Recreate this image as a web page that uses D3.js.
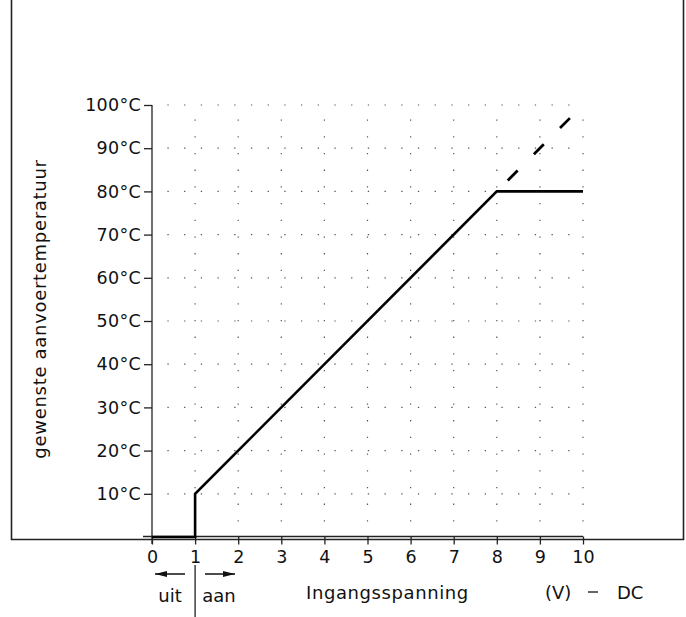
<!DOCTYPE html>
<html>
<head>
<meta charset="utf-8">
<script src="https://cdn.jsdelivr.net/npm/d3@7"></script>
<style>
  html, body { margin: 0; padding: 0; background: #fff; }
  text { font-family: 'DejaVu Sans', sans-serif; fill: #111; }
</style>
</head>
<body>
<div class="svg-container"></div>
<script>
const w = 686;
const h = 617;

// characteristic curve
const voltage = [0, 1, 1, 8, 10];
const temperature = [0, 0, 10, 80, 80];
// dashed continuation above 80°C
const dashVoltage = [8, 9.75];
const dashTemperature = [80, 97.5];

const xTicks = [0, 1, 2, 3, 4, 5, 6, 7, 8, 9, 10];
const yTicks = [10, 20, 30, 40, 50, 60, 70, 80, 90, 100];
const yTickLabels = yTicks.map(t => `${t}°C`);

const svg = d3
	.select('.svg-container')
	.append('svg')
	.attr('width', w)
	.attr('height', h)
	.style('display', 'block');

const xScale = d3.scaleLinear().domain([0, 10]).range([152, 583]);
const yScale = d3.scaleLinear().domain([0, 100]).range([537, 105]);

// outer frame (top is cut off)
svg
	.append('path')
	.attr('d', `M11.5,0 V539.5 H683.5 V0`)
	.attr('fill', 'none')
	.attr('stroke', '#222')
	.attr('stroke-width', 1.6);

// dotted grid
svg
	.append('g')
	.selectAll('line')
	.data(yTicks)
	.enter()
	.append('line')
	.attr('x1', xScale(0))
	.attr('x2', xScale(10))
	.attr('y1', d => yScale(d))
	.attr('y2', d => yScale(d))
	.attr('stroke', '#555')
	.attr('stroke-width', 1.2)
	.attr('stroke-dasharray', '1.3,15.4')
	.attr('stroke-dashoffset', -15.4);

svg
	.append('g')
	.selectAll('line')
	.data(xTicks.slice(1))
	.enter()
	.append('line')
	.attr('x1', d => xScale(d))
	.attr('x2', d => xScale(d))
	.attr('y1', yScale(0))
	.attr('y2', yScale(100))
	.attr('stroke', '#555')
	.attr('stroke-width', 1.2)
	.attr('stroke-dasharray', '1.3,15.4')
	.attr('stroke-dashoffset', -15.4);

// y axis
const yAxis = d3
	.axisLeft(yScale)
	.tickValues(yTicks)
	.tickSize(8)
	.tickPadding(3)
	.tickFormat((d, i) => yTickLabels[i]);

const gy = svg
	.append('g')
	.attr('transform', `translate(${xScale(0)}, 0)`)
	.call(yAxis);
gy.select('.domain').remove();
gy.selectAll('.tick line').attr('stroke', '#222').attr('stroke-width', 1.3);
gy.selectAll('.tick text')
	.style('font-size', '17.5px')
	.style('letter-spacing', '0.3px')
	.attr('fill', '#111');

svg
	.append('line')
	.attr('x1', xScale(0))
	.attr('x2', xScale(0))
	.attr('y1', yScale(100))
	.attr('y2', 544)
	.attr('stroke', '#222')
	.attr('stroke-width', 1.3);

// x axis
const xAxis = d3.axisBottom(xScale).tickValues(xTicks).tickSize(8).tickPadding(6);

const gx = svg
	.append('g')
	.attr('transform', `translate(0, 536.5)`)
	.call(xAxis);
gx.select('.domain').remove();
gx.selectAll('.tick line').attr('stroke', '#222').attr('stroke-width', 1.3);
gx.selectAll('.tick text')
	.style('font-size', '17.5px')
	.attr('fill', '#111');

svg
	.append('line')
	.attr('x1', 143)
	.attr('x2', xScale(10))
	.attr('y1', 536.5)
	.attr('y2', 536.5)
	.attr('stroke', '#222')
	.attr('stroke-width', 1.3);

// curve
const line = d3
	.line()
	.x(d => xScale(d[0]))
	.y(d => yScale(d[1]));

svg
	.append('path')
	.datum(voltage.map((v, i) => [v, temperature[i]]))
	.attr('d', line)
	.attr('fill', 'none')
	.attr('stroke', '#000')
	.attr('stroke-width', 2.6);

svg
	.append('path')
	.datum(dashVoltage.map((v, i) => [v, dashTemperature[i]]))
	.attr('d', line)
	.attr('fill', 'none')
	.attr('stroke', '#000')
	.attr('stroke-width', 2.8)
	.attr('stroke-dasharray', '14,23')
	.attr('stroke-dashoffset', 21.5);

// y axis title
svg
	.append('text')
	.attr('transform', `translate(46, 309) rotate(-90)`)
	.style('text-anchor', 'middle')
	.style('font-size', '18px')
	.style('letter-spacing', '0.7px')
	.text('gewenste  aanvoertemperatuur');

// uit / aan marker below the axis
const xOn = xScale(1);

svg
	.append('line')
	.attr('x1', xOn)
	.attr('x2', xOn)
	.attr('y1', 565)
	.attr('y2', 617)
	.attr('stroke', '#222')
	.attr('stroke-width', 1.3);

const defs = svg.append('defs');
defs
	.append('marker')
	.attr('id', 'arrow')
	.attr('viewBox', '0 0 12 6')
	.attr('refX', 12)
	.attr('refY', 3)
	.attr('markerWidth', 12)
	.attr('markerHeight', 6)
	.attr('markerUnits', 'userSpaceOnUse')
	.attr('orient', 'auto')
	.append('path')
	.attr('d', 'M0,0 L12,3 L0,6 Z')
	.attr('fill', '#111');

svg
	.append('line')
	.attr('x1', 185)
	.attr('x2', 155)
	.attr('y1', 574)
	.attr('y2', 574)
	.attr('stroke', '#111')
	.attr('stroke-width', 1.5)
	.attr('marker-end', 'url(#arrow)');

svg
	.append('line')
	.attr('x1', 205)
	.attr('x2', 235)
	.attr('y1', 574)
	.attr('y2', 574)
	.attr('stroke', '#111')
	.attr('stroke-width', 1.5)
	.attr('marker-end', 'url(#arrow)');

svg
	.append('text')
	.attr('x', 170)
	.attr('y', 602)
	.style('text-anchor', 'middle')
	.style('font-size', '18px')
	.text('uit');

svg
	.append('text')
	.attr('x', 219)
	.attr('y', 602)
	.style('text-anchor', 'middle')
	.style('font-size', '18px')
	.text('aan');

// x axis title
svg
	.append('text')
	.attr('x', 306)
	.attr('y', 599)
	.style('font-size', '18px')
	.style('letter-spacing', '0.6px')
	.text('Ingangsspanning');

svg
	.append('text')
	.attr('x', 545)
	.attr('y', 599)
	.style('font-size', '18px')
	.text('(V)');

svg
	.append('line')
	.attr('x1', 588)
	.attr('x2', 598)
	.attr('y1', 592)
	.attr('y2', 592)
	.attr('stroke', '#111')
	.attr('stroke-width', 1.3);

svg
	.append('text')
	.attr('x', 617)
	.attr('y', 599)
	.style('font-size', '18px')
	.text('DC');
</script>
</body>
</html>
